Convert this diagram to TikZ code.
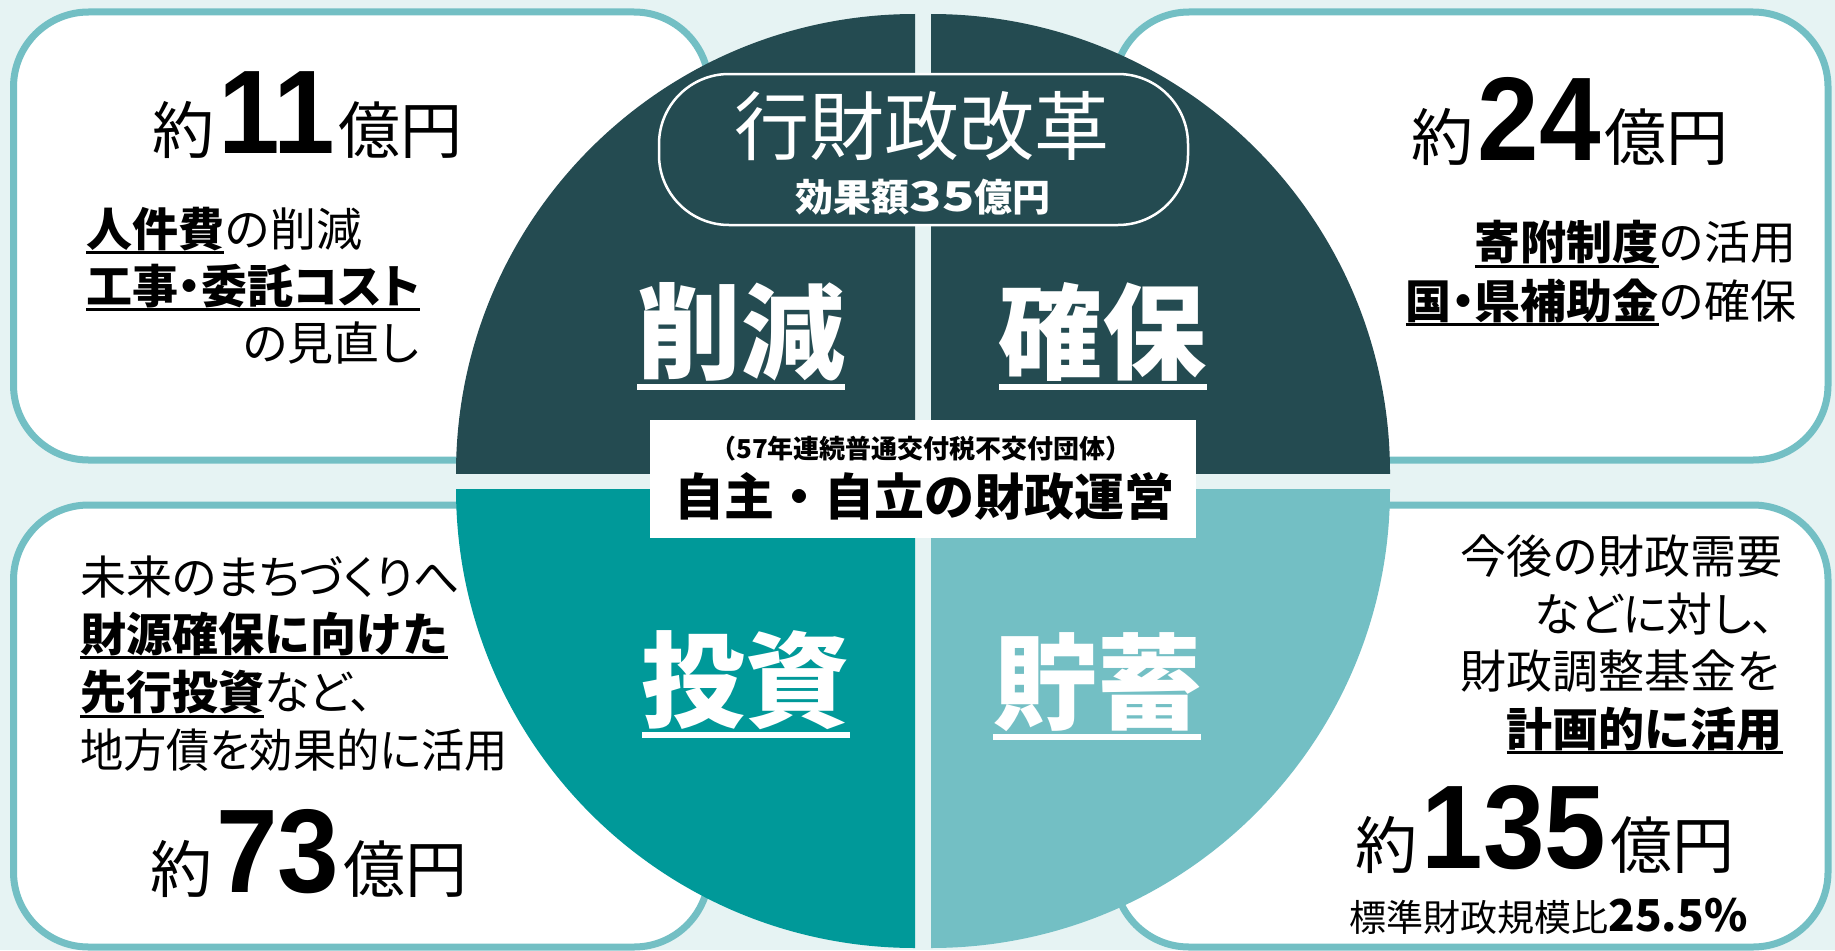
\documentclass[tikz,border=0pt]{standalone}
\usepackage{fontspec}
\setmainfont{Noto Sans CJK JP}
\newfontfamily\pf{Noto Sans CJK JP}[RawFeature=+palt]
\newfontfamily\dig{Liberation Sans}
\definecolor{bgc}{HTML}{E6F3F3}
\definecolor{dk}{HTML}{244B51}
\definecolor{tealc}{HTML}{009999}
\definecolor{lt}{HTML}{73BFC4}
\newlength\ulgap \newlength\ulth
\setlength\ulgap{8pt}\setlength\ulth{3pt}
\newcommand\ulx[1]{\setbox0=\hbox{#1}\rlap{\rule[-\ulgap]{\wd0}{\ulth}}\box0}
\newcommand\bigul[1]{\setlength\ulgap{18.5pt}\setlength\ulth{6pt}\ulx{#1}}
\newcommand\amount[1]{{\fontsize{62}{62}\selectfont 約}\kern4pt{\fontsize{119}{119}\selectfont\dig\bfseries\scalebox{0.93}[1]{#1}}\kern4pt{\fontsize{62}{62}\selectfont 億円}}
\tikzset{
  bodyf/.style={font=\fontsize{46}{46}\selectfont, inner sep=0pt},
  amt/.style={inner sep=0pt, anchor=base},
  lab/.style={text=white, font=\fontsize{104}{104}\selectfont\bfseries, inner sep=0pt, anchor=base},
  boxst/.style={draw=lt, line width=7pt, fill=white, rounded corners=75pt},
}
\begin{document}
\begin{tikzpicture}[x=1pt,y=-1pt]
\useasboundingbox (0,0) rectangle (1835,950);
\fill[bgc] (0,0) rectangle (1835,950);
% boxes
\draw[boxst] (13.5,12) rectangle (709,460);
\draw[boxst] (1114,12) rectangle (1828,460);
\draw[boxst] (13.5,505) rectangle (709,947);
\draw[boxst] (1114,505) rectangle (1828,947);
% quadrants
\begin{scope}\clip (0,0) rectangle (915,473); \fill[dk] (915,473) circle[radius=459pt]; \end{scope}
\begin{scope}\clip (931,0) rectangle (1835,473); \fill[dk] (931,473) circle[radius=459pt]; \end{scope}
\begin{scope}\clip (0,489) rectangle (915,950); \fill[tealc] (915,489) circle[radius=459pt]; \end{scope}
\begin{scope}\clip (931,489) rectangle (1835,950); \fill[lt] (931,489) circle[radius=459pt]; \end{scope}
% pill
\node[draw=white, line width=2.5pt, fill=dk, rounded corners=70pt, minimum width=529pt, minimum height=151pt, inner sep=0pt] (pill) at (923.5,149.5) {};
\node[anchor=base, text=white, font=\fontsize{75}{75}\selectfont, inner sep=0pt] (ttl) at (922,154) {行財政改革};
\node[anchor=base, text=white, font=\fontsize{38}{38}\selectfont\bfseries, inner sep=0pt] (eff) at (923,211) {効果額{\fontsize{41}{41}\selectfont\scalebox{1.3}[1]{35}}億円};
% labels
\node[lab] (l1) at (741,371.5) {\bigul{削減}};
\node[lab] (l2) at (1102.5,371.5) {\bigul{確保}};
\node[lab] (l3) at (745.5,719.5) {\bigul{投資}};
\node[lab] (l4) at (1097,721.5) {\bigul{貯蓄}};
% centre statement
\node[fill=white, minimum width=546pt, minimum height=118pt, inner sep=0pt] (stat) at (923,479) {};
\node[anchor=base, font=\fontsize{26}{26}\selectfont\bfseries, inner sep=0pt] (st1) at (921,458) {（57年連続普通交付税不交付団体）};
\node[anchor=base, font=\fontsize{50}{50}\selectfont\bfseries, inner sep=0pt] (st2) at (924.5,515) {自主・自立の財政運営};
% top-left
\node[amt] (tlamt) at (307.5,153) {\amount{11}};
\node[bodyf, anchor=base west] (tla) at (86,246) {\ulx{\bfseries 人件費}の削減};
\node[bodyf, anchor=base west] (tlb) at (86,303) {\pf\ulx{\bfseries 工事・委託コスト}};
\node[bodyf, anchor=base east] (tlc) at (419,360) {\pf の見直し};
% top-right
\node[amt] (tramt) at (1570,160) {\amount{24}};
\node[bodyf, anchor=base east] (tra) at (1797,259.5) {\ulx{\bfseries 寄附制度}の活用};
\node[bodyf, anchor=base east] (trb) at (1797,318) {\ulx{\bfseries 国{\pf ・}県補助金}の確保};
% bottom-left
\node[bodyf, anchor=base west] (bla) at (80,594.5) {\pf 未来のまちづくりへ};
\node[bodyf, anchor=base west] (blb) at (80,651) {\ulx{\bfseries 財源確保に向けた}};
\node[bodyf, anchor=base west] (blc) at (80,709.5) {\pf\ulx{\bfseries 先行投資}など、};
\node[bodyf, anchor=base west] (bld) at (80,767) {\pf\scalebox{0.94}[1]{地方債を効果的に活用}};
\node[amt] (blamt) at (309,892) {\amount{73}};
% bottom-right
\node[bodyf, anchor=base east] (bra) at (1783,573) {今後の財政需要};
\node[bodyf, anchor=base east] (brb) at (1775,631) {\pf などに対し、};
\node[bodyf, anchor=base east] (brc) at (1783,688) {財政調整基金を};
\node[bodyf, anchor=base east] (brd) at (1783,746) {\ulx{\bfseries 計画的に活用}};
\node[amt] (bramt) at (1545,868) {\amount{135}};
\node[inner sep=0pt, anchor=base west, font=\fontsize{37}{37}\selectfont] (brr) at (1349,931) {標準財政規模比{\fontsize{44}{44}\selectfont\bfseries 25.5\%}};
\end{tikzpicture}
\end{document}
